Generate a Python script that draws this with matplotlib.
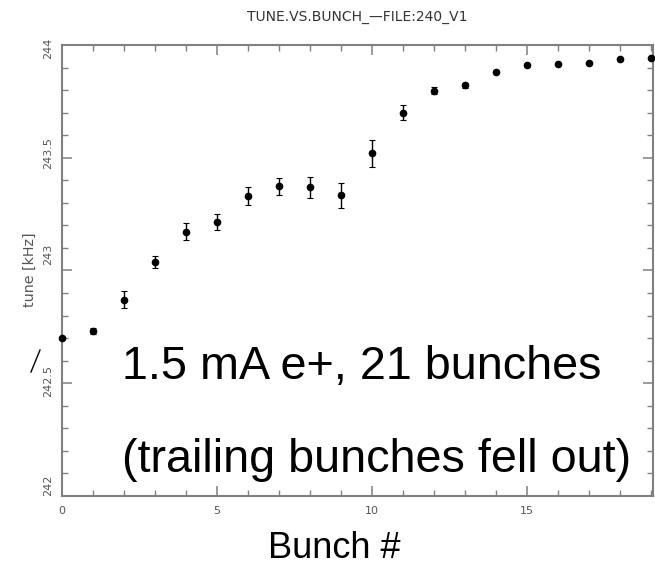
import matplotlib
matplotlib.use("Agg")
import matplotlib.pyplot as plt
import matplotlib.transforms as mtransforms
from matplotlib.lines import Line2D
from matplotlib.ticker import MultipleLocator

# bunch number vs measured tune
bunch = [0, 1, 2, 3, 4, 5, 6, 7, 8, 9, 10, 11, 12, 13, 14, 15, 16, 17, 18, 19]
tune = [242.700, 242.733, 242.870, 243.039, 243.172, 243.215, 243.329, 243.373,
        243.369, 243.333, 243.520, 243.700, 243.797, 243.821, 243.880, 243.911,
        243.914, 243.919, 243.937, 243.941]
tune_err = [0.005, 0.013, 0.037, 0.026, 0.038, 0.035, 0.040, 0.038,
            0.047, 0.057, 0.060, 0.033, 0.015, 0.010, 0.005, 0.004,
            0.004, 0.004, 0.004, 0.004]

grey = "#808080"
tick_grey = "#555555"

fig = plt.figure(figsize=(6.55, 5.66), dpi=100)
ax = fig.add_axes([0.0942, 0.1237, 0.9028, 0.7968])

ax.errorbar(bunch, tune, yerr=tune_err, fmt="o", color="black", ms=4.5,
            ecolor="black", elinewidth=1.0, capsize=2.2, capthick=0.8,
            clip_on=False, zorder=3)

ax.set_xlim(0, 19.07)
ax.set_ylim(242, 244)
ax.xaxis.set_major_locator(MultipleLocator(5))
ax.xaxis.set_minor_locator(MultipleLocator(1))
ax.yaxis.set_major_locator(MultipleLocator(0.5))
ax.yaxis.set_minor_locator(MultipleLocator(0.1))
ax.yaxis.set_major_formatter(plt.FuncFormatter(lambda v, p: f"{v:g}"))

for s in ax.spines.values():
    s.set_color(grey)
    s.set_linewidth(1.5)

ax.tick_params(which="both", direction="in", top=True, right=True,
               color=grey, labelcolor=tick_grey, labelsize=8)
ax.tick_params(axis="x", pad=7)
ax.tick_params(axis="y", pad=6)
ax.tick_params(which="major", length=7, width=1.1)
ax.tick_params(which="minor", length=4, width=1.0)

# the original plotter did not centre its rotated y labels on the ticks
fig.canvas.draw()
shifts = {"244": -3, "243.5": 5, "243": 16, "242.5": 2, "242": 11}
for lab in ax.get_yticklabels():
    lab.set_rotation(90)
    lab.set_va("center")
    dy = shifts.get(lab.get_text(), 0)
    lab.set_transform(lab.get_transform()
                      + mtransforms.ScaledTranslation(0, dy / 100, fig.dpi_scale_trans))

fig.text(0.046, 0.523, "tune [kHz]", rotation=90, ha="center", va="center",
         fontsize=10.3, color=tick_grey)

fig.text(0.545, 0.9705, "TUNE.VS.BUNCH_\u2014FILE:240_V1", ha="center", va="center",
         fontsize=10, color="#333333")

fig.text(0.187, 0.330, "1.5 mA e+, 21 bunches", fontsize=33.7,
         family="Liberation Sans", ha="left", va="baseline")
fig.text(0.187, 0.1666, "(trailing bunches fell out)", fontsize=33.7,
         family="Liberation Sans", ha="left", va="baseline")

fig.text(0.510, 0.014, "Bunch #", ha="center", va="baseline",
         fontsize=26, family="Liberation Sans")

# stray pen stroke left of the axis
fig.add_artist(Line2D([31 / 655, 40 / 655], [1 - 372 / 566, 1 - 350 / 566],
                      transform=fig.transFigure, color="black", lw=1.0))

fig.savefig("out.png", dpi=100)
